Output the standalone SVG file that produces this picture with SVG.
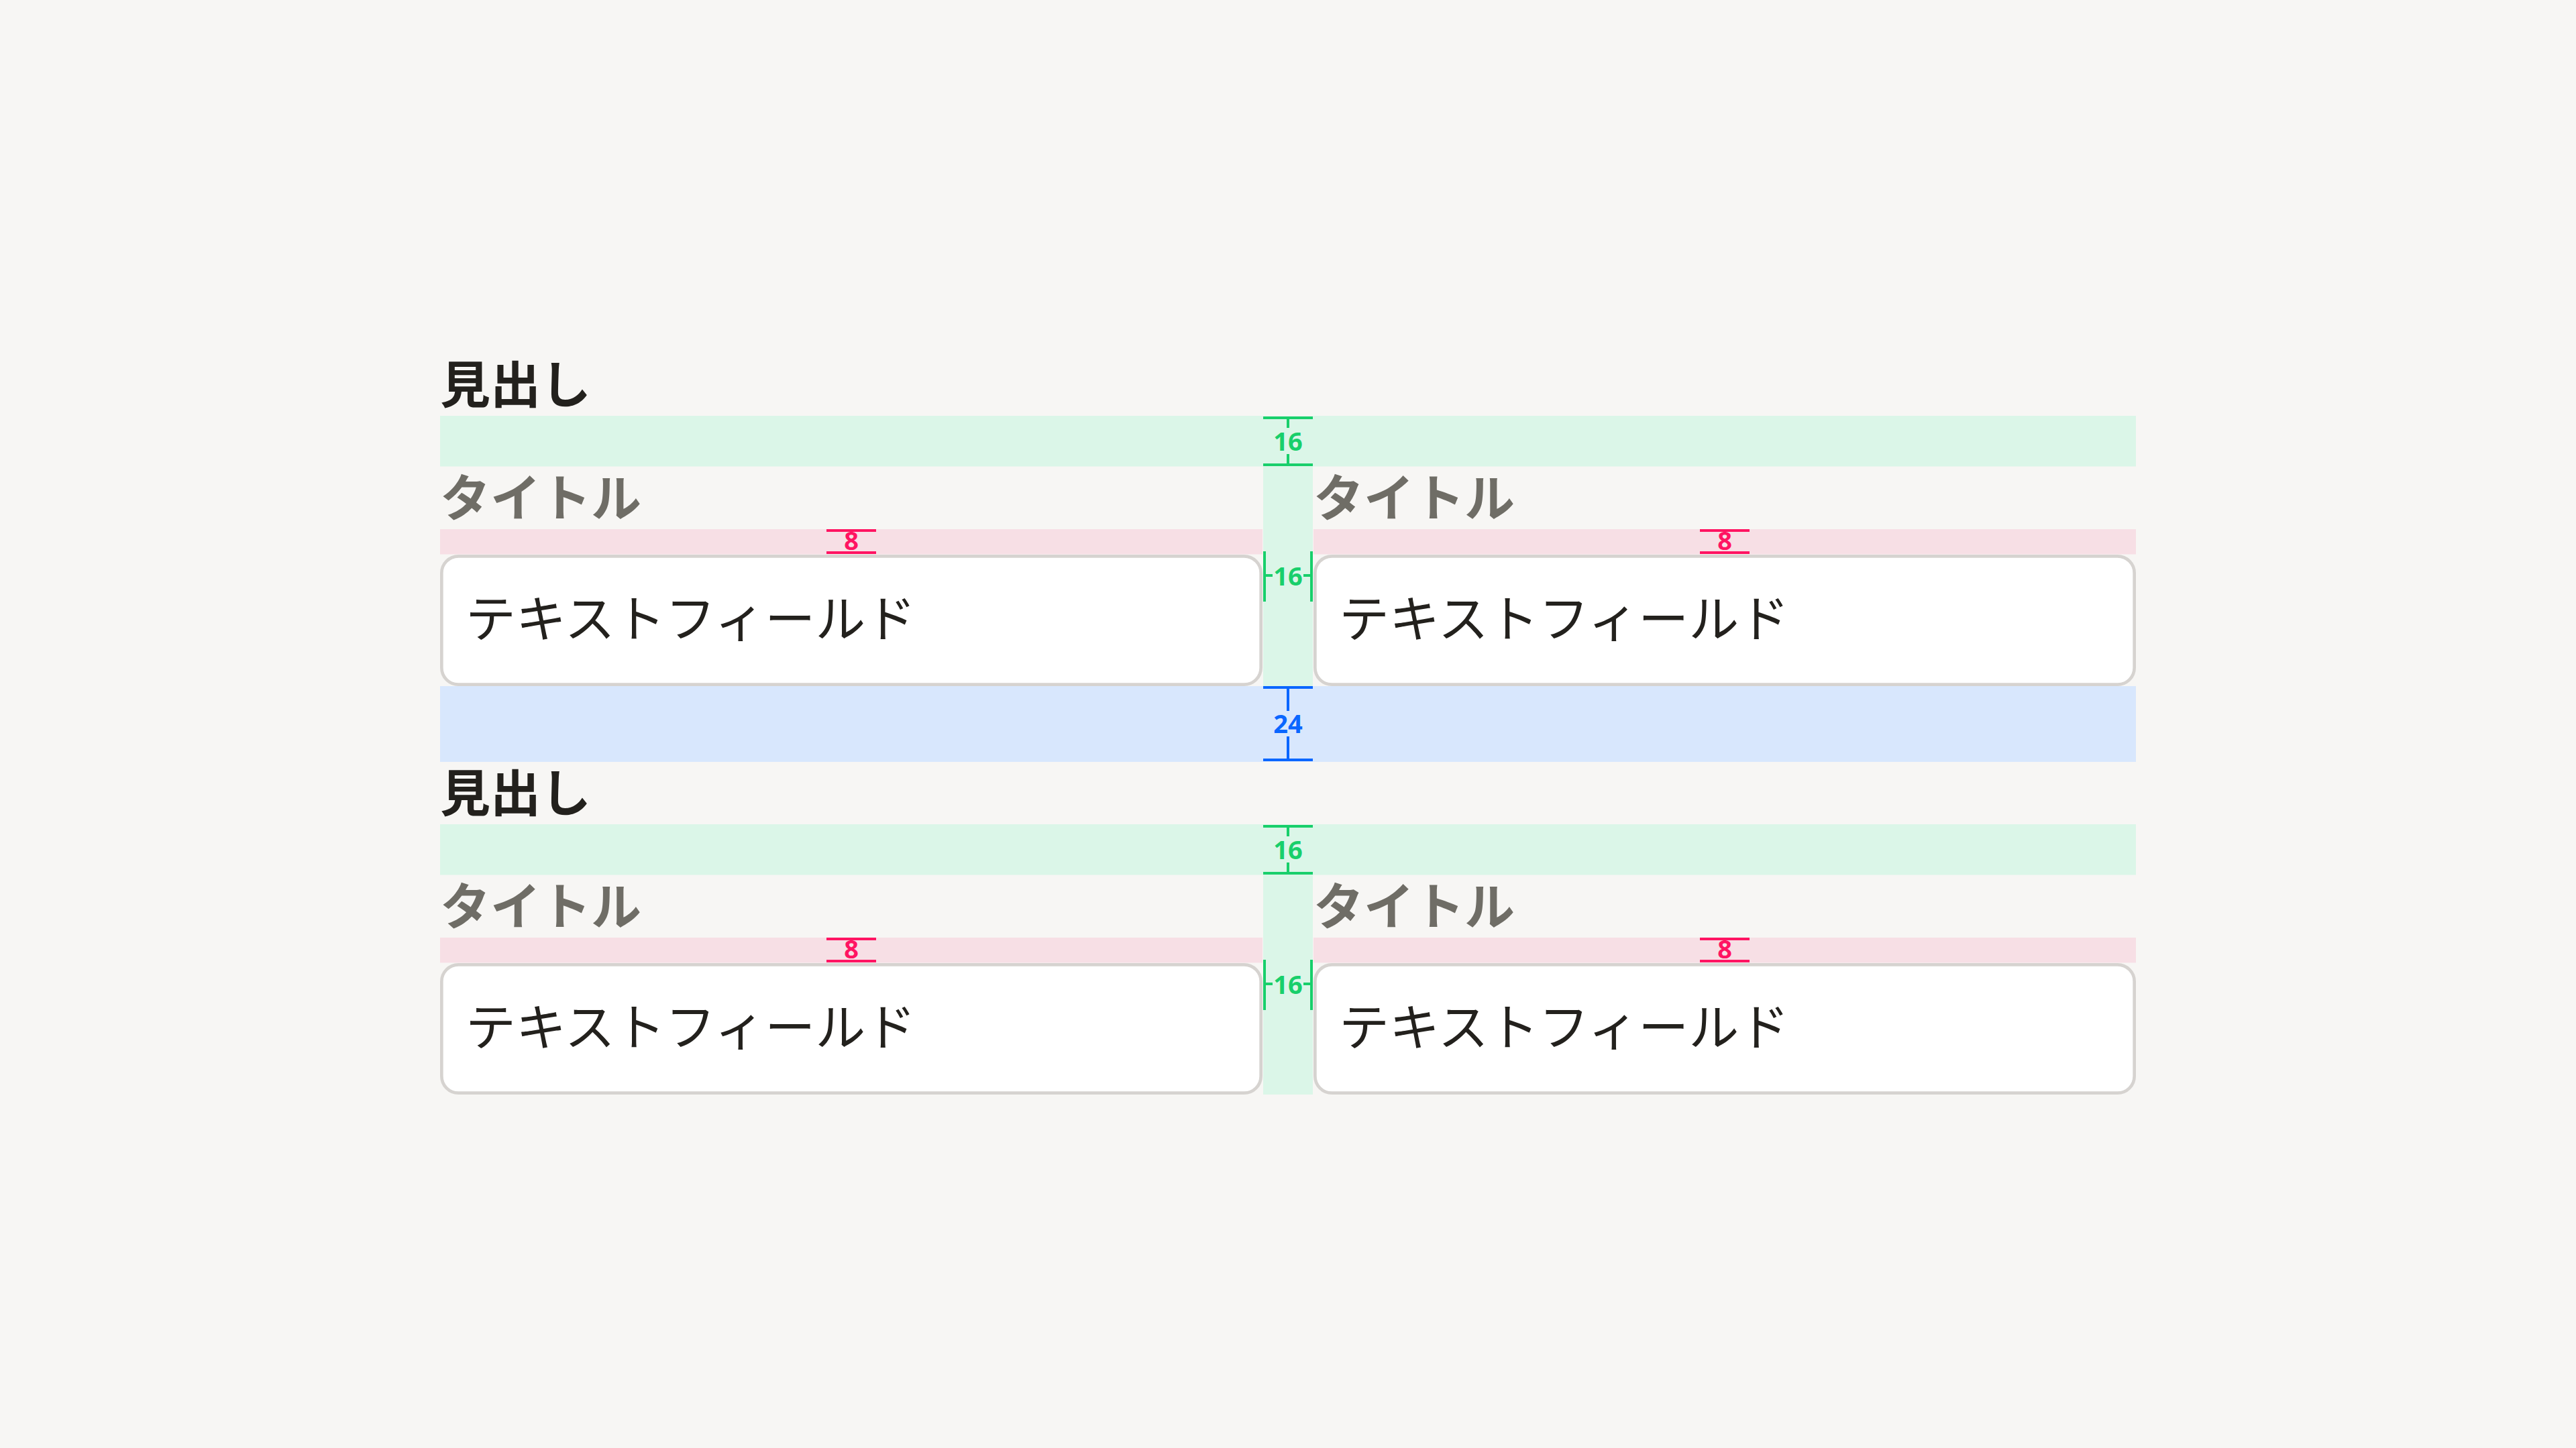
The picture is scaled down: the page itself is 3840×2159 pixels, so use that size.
<svg xmlns="http://www.w3.org/2000/svg" width="3840" height="2159" viewBox="0 0 3840 2159">
<style>
.bg{fill:#f7f6f4}
.bg-g{fill:#dbf6e8}
.bg-p{fill:#f7dfe5}
.bg-b{fill:#d8e7fd}
.field{fill:#ffffff;stroke:#d6d3d0;stroke-width:4.7}
.head{font-family:"Noto Sans CJK JP","Noto Sans",sans-serif;font-weight:700;font-size:75px;fill:#23211d}
.title{font-family:"Noto Sans CJK JP","Noto Sans",sans-serif;font-weight:700;font-size:75px;fill:#6f6d66}
.val{font-family:"Noto Sans CJK JP","Noto Sans",sans-serif;font-weight:400;font-size:75px;fill:#23211d}
.mg{stroke:#18cf6b;stroke-width:4;fill:none}
.mp{stroke:#ff1462;stroke-width:4;fill:none}
.mb{stroke:#0a66ff;stroke-width:4;fill:none}
.num{font-family:"Noto Sans","Open Sans",sans-serif;font-weight:700;font-size:38px;text-anchor:middle}
.ng{fill:#18cf6b}
.np{fill:#ff1462}
.nb{fill:#0a66ff}
</style>
<rect class="bg" x="0" y="0" width="3840" height="2159"/>

<g id="spacing-bands">
  <rect class="bg-g" x="656" y="620" width="2528" height="75.5"/>
  <rect class="bg-p" x="656" y="789" width="1226" height="37.5"/>
  <rect class="bg-p" x="1958" y="789" width="1226" height="37.5"/>
  <rect class="bg-g" x="1883" y="695" width="74" height="328"/>
  <rect class="bg-b" x="656" y="1023" width="2528" height="113"/>
  <rect class="bg-g" x="656" y="1229" width="2528" height="75.5"/>
  <rect class="bg-p" x="656" y="1398" width="1226" height="37.5"/>
  <rect class="bg-p" x="1958" y="1398" width="1226" height="37.5"/>
  <rect class="bg-g" x="1883" y="1304" width="74" height="328"/>
</g>

<g id="section-1">
  <g id="heading-1"><text class="head" x="656" y="601">見出し</text></g>
  <g id="field-1-left">
    <text class="title" x="656" y="770">タイトル</text>
    <rect class="field" x="658.35" y="829.35" width="1221.3" height="191.3" rx="25"/>
    <text class="val" x="694" y="950">テキストフィールド</text>
  </g>
  <g id="field-1-right">
    <text class="title" x="1958" y="770">タイトル</text>
    <rect class="field" x="1960.35" y="829.35" width="1221.3" height="191.3" rx="25"/>
    <text class="val" x="1996" y="950">テキストフィールド</text>
  </g>
</g>

<g id="section-2">
  <g id="heading-2"><text class="head" x="656" y="1210">見出し</text></g>
  <g id="field-2-left">
    <text class="title" x="656" y="1379">タイトル</text>
    <rect class="field" x="658.35" y="1438.35" width="1221.3" height="191.3" rx="25"/>
    <text class="val" x="694" y="1559">テキストフィールド</text>
  </g>
  <g id="field-2-right">
    <text class="title" x="1958" y="1379">タイトル</text>
    <rect class="field" x="1960.35" y="1438.35" width="1221.3" height="191.3" rx="25"/>
    <text class="val" x="1996" y="1559">テキストフィールド</text>
  </g>
</g>

<g id="connectors">
  <g id="dim-16-v1">
    <path class="mg" d="M1883 623H1957M1883 693H1957M1920 623V638M1920 677V693"/>
    <text class="num ng" x="1920" y="672">16</text>
  </g>
  <g id="dim-16-h1">
    <path class="mg" d="M1885 822V897M1955 822V897M1885 858H1897M1943 858H1955"/>
    <text class="num ng" x="1920" y="873">16</text>
  </g>
  <g id="dim-8-1l">
    <path class="mp" d="M1232 791H1306M1232 824H1306M1269 791V795"/>
    <text class="num np" x="1269" y="820">8</text>
  </g>
  <g id="dim-8-1r">
    <path class="mp" d="M2534 791H2608M2534 824H2608M2571 791V795"/>
    <text class="num np" x="2571" y="820">8</text>
  </g>
  <g id="dim-24">
    <path class="mb" d="M1883 1025H1957M1883 1133H1957M1920 1025V1060M1920 1098V1133"/>
    <text class="num nb" x="1920" y="1093">24</text>
  </g>
  <g id="dim-16-v2">
    <path class="mg" d="M1883 1232H1957M1883 1302H1957M1920 1232V1247M1920 1286V1302"/>
    <text class="num ng" x="1920" y="1281">16</text>
  </g>
  <g id="dim-16-h2">
    <path class="mg" d="M1885 1431V1506M1955 1431V1506M1885 1467H1897M1943 1467H1955"/>
    <text class="num ng" x="1920" y="1482">16</text>
  </g>
  <g id="dim-8-2l">
    <path class="mp" d="M1232 1400H1306M1232 1433H1306M1269 1400V1404"/>
    <text class="num np" x="1269" y="1429">8</text>
  </g>
  <g id="dim-8-2r">
    <path class="mp" d="M2534 1400H2608M2534 1433H2608M2571 1400V1404"/>
    <text class="num np" x="2571" y="1429">8</text>
  </g>
</g>
</svg>
